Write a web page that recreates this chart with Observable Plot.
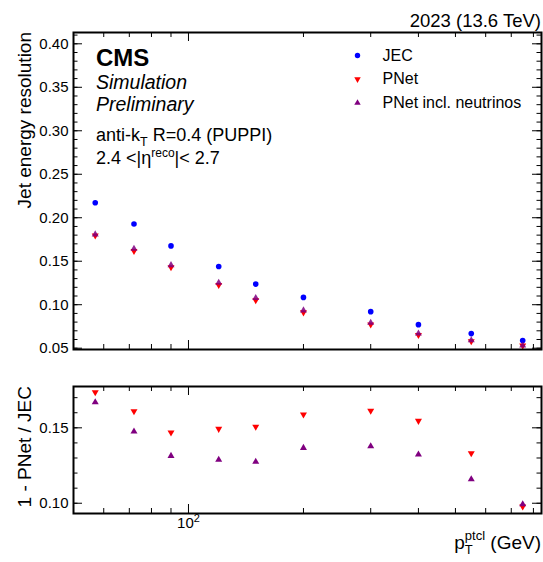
<!DOCTYPE html>
<html>
<head>
<meta charset="utf-8">
<script src="https://cdn.jsdelivr.net/npm/d3@7"></script>
<script src="https://cdn.jsdelivr.net/npm/@observablehq/plot@0.6"></script>
<style>
  html, body { margin: 0; padding: 0; background: white; }
  #chart { position: relative; width: 543px; height: 562px; font-family: "Liberation Sans", Arial, Helvetica, sans-serif; color: black; }
  #chart svg { display: block; overflow: visible; }
</style>
</head>
<body>
<div id="chart"></div>
<script>
// ---- data ----
const ptBins      = [57, 72, 90, 120, 150, 200, 300, 400, 550, 750];
const jecRes      = [0.2172, 0.1928, 0.1676, 0.1439, 0.1237, 0.1084, 0.0920, 0.0771, 0.0668, 0.0588];
const pnetRes     = [0.1795, 0.1618, 0.1430, 0.1226, 0.1052, 0.0912, 0.0773, 0.0652, 0.0579, 0.0530];
const pnetNuRes   = [0.1809, 0.1643, 0.1455, 0.1253, 0.1078, 0.0935, 0.0793, 0.0669, 0.0591, 0.0531];
const pnetRatio   = [0.1736, 0.1610, 0.1469, 0.1493, 0.1507, 0.1588, 0.1613, 0.1546, 0.1332, 0.0978];
const pnetNuRatio = [0.1670, 0.1475, 0.1314, 0.1288, 0.1275, 0.1367, 0.1378, 0.1323, 0.1159, 0.0993];

const seriesNames = ["JEC", "PNet", "PNet incl. neutrinos"];
const seriesColors = ["#0000ff", "#ff0000", "#800080"];

// ticks
const xMajorTicks = [100];
const xMajorBase = ["10"];
const xMajorExp = ["2"];
const xMinorTicks = [60, 70, 80, 90, 200, 300, 400, 500, 600, 700, 800];
const topYMajor = [0.05, 0.10, 0.15, 0.20, 0.25, 0.30, 0.35, 0.40];
const topYMinor = [0.05,0.06,0.07,0.08,0.09,0.10,0.11,0.12,0.13,0.14,0.15,0.16,0.17,0.18,0.19,0.20,0.21,0.22,0.23,0.24,0.25,0.26,0.27,0.28,0.29,0.30,0.31,0.32,0.33,0.34,0.35,0.36,0.37,0.38,0.39,0.40,0.41];
const botYMajor = [0.10, 0.15];
const botYMinor = [0.10, 0.11, 0.12, 0.13, 0.14, 0.15, 0.16, 0.17];
const xDomain = [50, 840];

const topRows = ptBins.map((pt, i) => ({pt, jec: jecRes[i], pnet: pnetRes[i], nu: pnetNuRes[i]}));
const botRows = ptBins.map((pt, i) => ({pt, pnet: pnetRatio[i], nu: pnetNuRatio[i]}));

const W = 543, ML = 73, MR = 2;
const FONT = '"Liberation Sans", Arial, Helvetica, sans-serif';

function tickMarks(fw, fh, yMajor, yMinor) {
  return [
    Plot.tickY(yMajor, {y: d => d, insetRight: fw - 9, stroke: "black"}),
    Plot.tickY(yMajor, {y: d => d, insetLeft: fw - 9, stroke: "black"}),
    Plot.tickY(yMinor, {y: d => d, insetRight: fw - 4.5, stroke: "black"}),
    Plot.tickY(yMinor, {y: d => d, insetLeft: fw - 4.5, stroke: "black"}),
    Plot.tickX(xMajorTicks, {x: d => d, insetTop: fh - 9, stroke: "black"}),
    Plot.tickX(xMajorTicks, {x: d => d, insetBottom: fh - 9, stroke: "black"}),
    Plot.tickX(xMinorTicks, {x: d => d, insetTop: fh - 5, stroke: "black"}),
    Plot.tickX(xMinorTicks, {x: d => d, insetBottom: fh - 5, stroke: "black"})
  ];
}

// ---- top panel ----
const topH = 360, topMT = 32, topMB = 11;
const topFW = W - ML - MR, topFH = topH - topMT - topMB;
const symbols = ["circle", "triangle", "triangle"];
const rotates = [0, 180, 0];
const legendMarks = [];
seriesNames.forEach((name, i) => {
  legendMarks.push(Plot.dot([name], {frameAnchor: "top-left", dx: 357 - ML, dy: 55 - topMT + 23.7 * i,
    symbol: symbols[i], rotate: rotates[i], r: i === 0 ? 2.7 : 2.4, fill: seriesColors[i]}));
  legendMarks.push(Plot.text([name], {text: d => d, frameAnchor: "top-left", dx: 382 - ML, dy: 55 - topMT + 23.7 * i,
    textAnchor: "start", lineAnchor: "middle", fontSize: 16, fill: "black"}));
});

const topPlot = Plot.plot({
  width: W, height: topH,
  marginLeft: ML, marginRight: MR, marginTop: topMT, marginBottom: topMB,
  style: {fontFamily: FONT, fontSize: "15px", color: "black", background: "white", overflow: "visible"},
  x: {type: "log", domain: xDomain, axis: null},
  y: {domain: [0.0485, 0.413]},
  marks: [
    ...tickMarks(topFW, topFH, topYMajor, topYMinor),
    Plot.axisY({ticks: topYMajor, tickSize: 0, tickPadding: 5, tickFormat: d3.format(".2f"), label: null, fontSize: 15}),
    Plot.dot(topRows, {x: "pt", y: "jec", r: 2.8, fill: seriesColors[0]}),
    Plot.dot(topRows, {x: "pt", y: "pnet", symbol: "triangle", rotate: 180, r: 2.6, fill: seriesColors[1]}),
    Plot.dot(topRows, {x: "pt", y: "nu", symbol: "triangle", r: 2.6, fill: seriesColors[2], fillOpacity: 0.85}),
    ...legendMarks,
    Plot.frame({stroke: "black", strokeWidth: 2})
  ]
});

// ---- bottom panel ----
const botH = 202, botMT = 26, botMB = 49;
const botFW = W - ML - MR, botFH = botH - botMT - botMB;
const xLabelFor = d => {
  const k = xMajorTicks.indexOf(+d);
  return k >= 0 ? xMajorBase[k] + "\u200B" + xMajorExp[k] : "";
};
const botPlot = Plot.plot({
  width: W, height: botH,
  marginLeft: ML, marginRight: MR, marginTop: botMT, marginBottom: botMB,
  style: {fontFamily: FONT, fontSize: "15px", color: "black", background: "white", overflow: "visible"},
  x: {type: "log", domain: xDomain},
  y: {domain: [0.0932, 0.1774]},
  marks: [
    ...tickMarks(botFW, botFH, botYMajor, botYMinor),
    Plot.axisY({ticks: botYMajor, tickSize: 0, tickPadding: 5, tickFormat: d3.format(".2f"), label: null, fontSize: 15}),
    Plot.axisX({ticks: xMajorTicks, tickSize: 0, tickPadding: 4, tickFormat: xLabelFor, label: null, fontSize: 15}),
    Plot.dot(botRows, {x: "pt", y: "pnet", symbol: "triangle", rotate: 180, r: 2.6, fill: seriesColors[1]}),
    Plot.dot(botRows, {x: "pt", y: "nu", symbol: "triangle", r: 2.6, fill: seriesColors[2]}),
    Plot.frame({stroke: "black", strokeWidth: 2})
  ]
});

// render x tick labels as base with a real superscript exponent
d3.select(botPlot).selectAll("[aria-label='x-axis tick label'] text").each(function() {
  const t = d3.select(this);
  const s = t.text();
  const parts = s.split("\u200B");
  if (parts.length !== 2) return;
  t.text(null);
  t.append("tspan").text(parts[0]);
  t.append("tspan").attr("dy", -6).attr("font-size", 11).text(parts[1]);
});

const chart = document.getElementById("chart");
const topDiv = document.createElement("div");
topDiv.style.cssText = "position:absolute;left:0;top:0;";
topDiv.appendChild(topPlot);
const botDiv = document.createElement("div");
botDiv.style.cssText = "position:absolute;left:0;top:360px;";
botDiv.appendChild(botPlot);
chart.appendChild(topDiv);
chart.appendChild(botDiv);

// ---- annotation texts ----
function addText(svg, {x, y, anchor = "start", size = 15, weight = "normal", style = "normal", rotate = 0}, parts) {
  const t = d3.select(svg).append("text")
    .attr("transform", `translate(${x},${y})` + (rotate ? ` rotate(${rotate})` : ""))
    .attr("text-anchor", anchor)
    .attr("font-family", FONT)
    .attr("font-size", size)
    .attr("font-weight", weight)
    .attr("font-style", style)
    .attr("fill", "black");
  parts.forEach(p => {
    if (typeof p === "string") { t.append("tspan").text(p); return; }
    const s = t.append("tspan").text(p.text);
    if (p.dx != null) s.attr("dx", p.dx);
    if (p.dy != null) s.attr("dy", p.dy);
    if (p.size != null) s.attr("font-size", p.size);
  });
  return t;
}

addText(topPlot, {x: 541, y: 26.5, anchor: "end", size: 18.5}, ["2023 (13.6 TeV)"]);
addText(topPlot, {x: 96, y: 65.5, size: 24, weight: "bold"}, ["CMS"]);
addText(topPlot, {x: 96, y: 88.5, size: 19.5, style: "italic"}, ["Simulation"]);
addText(topPlot, {x: 96, y: 110.5, size: 19.5, style: "italic"}, ["Preliminary"]);
addText(topPlot, {x: 96, y: 141, size: 18}, [
  "anti-k", {text: "T", dy: 5, size: 12.5}, {text: " R=0.4 (PUPPI)", dy: -5}
]);
addText(topPlot, {x: 96, y: 164, size: 18}, [
  "2.4 <|η", {text: "reco", dy: -7.5, size: 12}, {text: "|< 2.7", dy: 7.5}
]);
addText(topPlot, {x: 31, y: 32, anchor: "end", size: 19, rotate: -90}, ["Jet energy resolution"]);
addText(botPlot, {x: 31, y: 26, anchor: "end", size: 19, rotate: -90}, ["1 - PNet / JEC"]);
addText(botPlot, {x: 541, y: 189, anchor: "end", size: 19}, [
  "p", {text: "T", dy: 5, size: 13}, {text: "ptcl", dx: -7.9, dy: -14, size: 13}, {text: " (GeV)", dy: 9}
]);
</script>
</body>
</html>
